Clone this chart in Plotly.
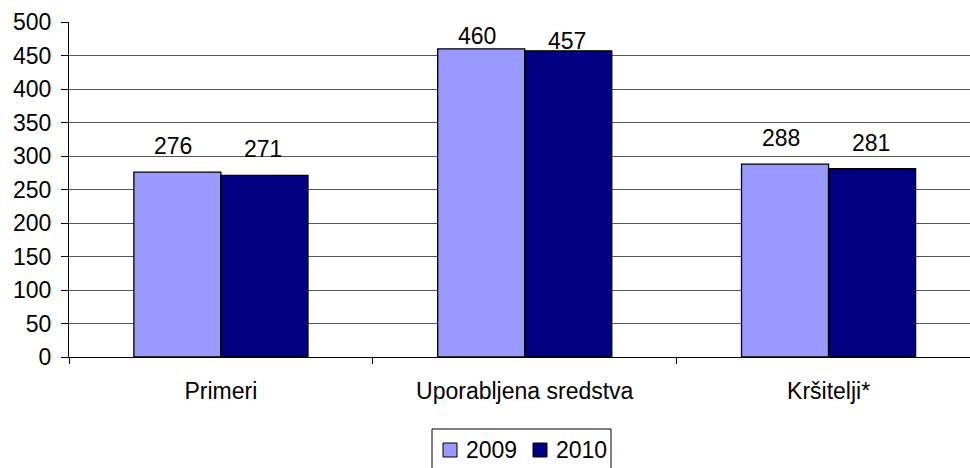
import plotly.graph_objects as go

categories = ["Primeri", "Uporabljena sredstva", "Kršitelji*"]
series_names = ["2009", "2010"]
values_2009 = [276, 460, 288]
values_2010 = [271, 457, 281]
y_ticks = [0, 50, 100, 150, 200, 250, 300, 350, 400, 450, 500]

colors = ["#9999FF", "#000080"]
FONT = "Liberation Sans, Arial, sans-serif"
FS = 23

W, H = 970, 468
ML, MR, MT, MB = 69, 0, 22, 111
PW, PH = W - ML - MR, H - MT - MB


def px_x(px):
    return (px - ML) / PW


def px_y(py):
    return (H - MB - py) / PH


fig = go.Figure()
for name, vals, col in zip(series_names, [values_2009, values_2010], colors):
    fig.add_trace(go.Bar(
        x=categories, y=vals, name=name,
        marker=dict(color=col, line=dict(color="black", width=1.3)),
    ))

# value labels; the tall middle pair is pulled down to stay inside the plot (as in the original)
label_xshift = [-48, 42]
label_yshift = [[11, -2, 11], [11, -5, 11]]
annotations = []
for s, vals in enumerate([values_2009, values_2010]):
    for i, (c, v) in enumerate(zip(categories, vals)):
        annotations.append(dict(
            x=c, y=v, text=str(v), showarrow=False, xref="x", yref="y",
            xshift=label_xshift[s], yshift=label_yshift[s][i], yanchor="bottom",
            font=dict(family=FONT, size=FS, color="black"),
        ))

# manual legend (box, swatches, labels)
shapes = [dict(type="rect", xref="paper", yref="paper",
               x0=px_x(432), x1=px_x(611), y0=px_y(480), y1=px_y(429),
               line=dict(color="black", width=1), fillcolor="white", layer="above")]
legend_x = [443, 533]
for lx, name, col in zip(legend_x, series_names, colors):
    shapes.append(dict(type="rect", xref="paper", yref="paper",
                       x0=px_x(lx), x1=px_x(lx + 14), y0=px_y(457), y1=px_y(443),
                       line=dict(color="black", width=1), fillcolor=col, layer="above"))
    annotations.append(dict(
        x=px_x(lx + 21), y=px_y(450), xref="paper", yref="paper",
        text=name, showarrow=False, xanchor="left", yanchor="middle",
        font=dict(family=FONT, size=FS, color="black"),
    ))

fig.update_layout(
    width=W, height=H,
    margin=dict(l=ML, r=MR, t=MT, b=MB, autoexpand=False),
    paper_bgcolor="white", plot_bgcolor="white",
    barmode="group", bargap=0.427, bargroupgap=0,
    font=dict(family=FONT, size=FS, color="black"),
    showlegend=False,
    annotations=annotations,
    shapes=shapes,
)
fig.update_xaxes(
    range=[-0.5, 2.4655], automargin=False,
    showline=True, linecolor="black", linewidth=1,
    ticks="outside", tickson="boundaries", ticklen=6, tickcolor="black",
    showgrid=False, ticklabelstandoff=13,
    tickfont=dict(family=FONT, size=FS, color="black"),
)
fig.update_yaxes(
    range=[0, 500], tickvals=y_ticks, automargin=False,
    showline=True, linecolor="black", linewidth=1,
    ticks="outside", ticklen=7, tickcolor="black",
    showgrid=True, gridcolor="#555555", gridwidth=1.2,
    zeroline=False, ticklabelstandoff=5,
    tickfont=dict(family=FONT, size=FS, color="black"),
)

fig.write_html(
    "out.html",
    config={"displayModeBar": False},
    post_script="document.body.style.margin='0px';document.body.style.overflow='hidden';",
)
